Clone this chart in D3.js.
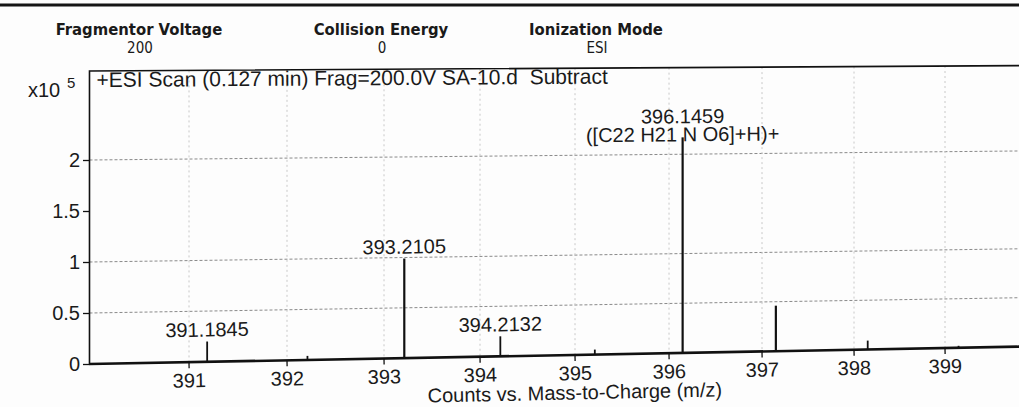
<!DOCTYPE html>
<html>
<head>
<meta charset="utf-8">
<script src="https://cdn.jsdelivr.net/npm/d3@7"></script>
<style>
  html, body { margin: 0; padding: 0; background: #fdfdfd; }
  svg { display: block; }
  .sans { font-family: "Liberation Sans", Arial, sans-serif; fill: #1a1a1a; white-space: pre; }
  .hdr { font-family: "DejaVu Sans Condensed", "DejaVu Sans", sans-serif; font-stretch: condensed; fill: #1a1a1a; }
</style>
</head>
<body>
<svg id="chart" width="1019" height="407"></svg>
<script>
// Acquisition parameters shown in the report header
const headerNames  = ["Fragmentor Voltage", "Collision Energy", "Ionization Mode"];
const headerValues = ["200", "0", "ESI"];

// Spectrum title
const scanTitle = "+ESI Scan (0.127 min) Frag=200.0V SA-10.d  Subtract";

// Centroided peaks: m/z and abundance (counts x10^5)
const peakMz     = [391.1845, 392.21, 393.2105, 394.2132, 395.21, 396.1459, 397.15, 398.15, 399.15];
const peakCounts = [0.20, 0.04, 0.99, 0.20, 0.05, 2.17, 0.46, 0.09, 0.02];

// Annotated peaks (one entry per annotated m/z, lines of text)
const labelMz    = [391.1845, 393.2105, 394.2132, 396.1459];
const labelLines = [["391.1845"], ["393.2105"], ["394.2132"], ["396.1459", "([C22 H21 N O6]+H)+"]];

// Axis ticks and gridlines
const xTicks = [391, 392, 393, 394, 395, 396, 397, 398, 399];
const yTicks = [0, 0.5, 1, 1.5, 2];
const yGrid  = [0.5, 1, 2];

const xTitle = "Counts vs. Mass-to-Charge (m/z)";

const svg = d3.select("#chart");

// Plot frame geometry (flat page coordinates)
const plotLeft = 90, plotTop = 71, plotBottom = 364, plotRight = 1100;

// Scales
const x = d3.scaleLinear().domain([391, 399]).range([189, 189 + 8 * 98.5]);
x.domain([x.invert(plotLeft), x.invert(plotRight)]).range([plotLeft, plotRight]);
const y = d3.scaleLinear().domain([0, 2]).range([plotBottom, plotBottom - 204]);

// The printed sheet was photographed slightly in perspective: the right side
// recedes (narrower spacing) and horizontal rules tilt more toward the bottom.
const K0 = -0.0058, K1 = -0.000044;
const slope = py => K0 + K1 * (py - plotTop);
function pt(px, py) {
  const u = (px - 189) / 98.5;
  const X = px - 0.5 * u * u;
  return [X, py + slope(py) * (X - plotLeft)];
}
const ang = py => Math.atan(slope(py)) * 180 / Math.PI;
const seg = (a, b) => `M${a[0]},${a[1]}L${b[0]},${b[1]}`;

// Header band
svg.append("line")
  .attr("x1", 0).attr("x2", 1019).attr("y1", 5).attr("y2", 5)
  .attr("stroke", "#151515").attr("stroke-width", 3);

const hdrX = [139, 381, 596];
headerNames.forEach((n, i) => {
  svg.append("text").attr("class", "hdr")
    .attr("x", hdrX[i]).attr("y", 35).attr("text-anchor", "middle")
    .style("font-size", "16.5px").style("font-weight", "bold").text(n);
  svg.append("text").attr("class", "hdr")
    .attr("x", hdrX[i] + 1).attr("y", 53).attr("text-anchor", "middle")
    .style("font-size", "15px").text(headerValues[i]);
});

const g = svg.append("g");

// Gridlines
g.append("g").selectAll("path").data(yGrid).join("path")
  .attr("d", d => seg(pt(plotLeft, y(d)), pt(plotRight, y(d))))
  .attr("fill", "none").attr("stroke", "#8a8a8a").attr("stroke-width", 1)
  .attr("stroke-dasharray", "3,2");

g.append("g").selectAll("path").data(xTicks).join("path")
  .attr("d", d => seg(pt(x(d), plotTop), pt(x(d), plotBottom)))
  .attr("fill", "none").attr("stroke", "#c8c8c8").attr("stroke-width", 1)
  .attr("stroke-dasharray", "2,3");

// Frame (left and top)
g.append("path")
  .attr("d", (() => {
    const a = pt(plotLeft, plotBottom), b = pt(plotLeft, plotTop), c = pt(plotRight, plotTop);
    return `M${a[0]},${a[1]}L${b[0]},${b[1]}L${c[0]},${c[1]}`;
  })())
  .attr("fill", "none").attr("stroke", "#111").attr("stroke-width", 1.6);

// Y axis
const yAxis = d3.axisLeft(y).tickValues(yTicks).tickSize(7).tickPadding(3)
  .tickFormat(d => d3.format("~g")(d));
const ya = g.append("g").attr("transform", `translate(${plotLeft},0)`).call(yAxis);
ya.select(".domain").remove();
ya.selectAll(".tick line").attr("stroke", "#111").attr("stroke-width", 1.3);
ya.selectAll(".tick text").attr("class", "sans").style("font-size", "20px")
  .attr("fill", "#1a1a1a").attr("font-family", null);

// X axis: built by d3, then laid onto the tilted baseline
const xAxis = d3.axisBottom(x).tickValues(xTicks).tickSize(6).tickPadding(5)
  .tickSizeOuter(0).tickFormat(d3.format("d"));
const xa = g.append("g").attr("transform", `translate(0,${plotBottom})`).call(xAxis);
xa.select(".domain")
  .attr("d", () => {
    const a = pt(plotLeft, plotBottom), b = pt(plotRight, plotBottom);
    return `M${a[0]},${a[1] - plotBottom}L${b[0]},${b[1] - plotBottom}`;
  })
  .attr("stroke", "#111").attr("stroke-width", 2.6);
xa.selectAll(".tick").attr("transform", d => {
  const p = pt(x(d), plotBottom);
  return `translate(${p[0]},${p[1] - plotBottom}) rotate(${ang(plotBottom)})`;
});
xa.selectAll(".tick line").attr("stroke", "#111").attr("stroke-width", 1.3);
xa.selectAll(".tick text").attr("class", "sans").style("font-size", "20px")
  .attr("fill", "#1a1a1a").attr("font-family", null);

// Peaks
g.append("g").selectAll("path").data(peakMz).join("path")
  .attr("d", (d, i) => seg(pt(x(d), plotBottom), pt(x(d), y(peakCounts[i]))))
  .attr("stroke", "#111")
  .attr("stroke-width", (d, i) => peakCounts[i] > 0.3 ? 2.2 : 1.8);

// Text placed on the page, following the local tilt
function pageText(px, py, str, size, anchor) {
  const p = pt(px, py);
  return g.append("text").attr("class", "sans")
    .attr("transform", `translate(${p[0]},${p[1]}) rotate(${ang(py)})`)
    .attr("text-anchor", anchor).style("font-size", size).text(str);
}

// Peak annotations
labelMz.forEach((m, i) => {
  const k = peakMz.indexOf(m);
  const topY = y(peakCounts[k]);
  const lines = labelLines[i];
  const lastBase = lines.length > 1 ? topY + 4 : topY - 5;
  lines.forEach((s, j) => {
    pageText(x(m), lastBase - (lines.length - 1 - j) * 18.5, s, "20px", "middle");
  });
});

// Scale factor and spectrum title
g.append("text").attr("class", "sans").attr("x", 28).attr("y", 97)
  .style("font-size", "20px").text("x10");
g.append("text").attr("class", "sans").attr("x", 67).attr("y", 88)
  .style("font-size", "15px").text("5");

pageText(plotLeft + 7, 87, scanTitle, "21px", "start");

// X axis title, centred on the tick range
pageText(x((xTicks[0] + xTicks[xTicks.length - 1]) / 2), 409.5, xTitle, "20px", "middle");
</script>
</body>
</html>
